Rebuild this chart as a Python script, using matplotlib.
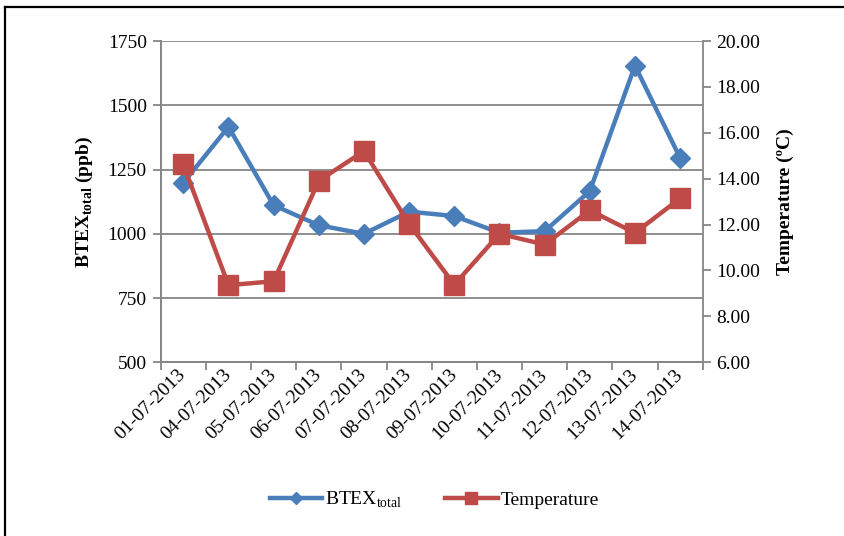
import matplotlib

matplotlib.use("Agg")
import matplotlib.pyplot as plt
from matplotlib.lines import Line2D
import numpy as np

# values
dates = [
    "01-07-2013", "04-07-2013", "05-07-2013", "06-07-2013",
    "07-07-2013", "08-07-2013", "09-07-2013", "10-07-2013",
    "11-07-2013", "12-07-2013", "13-07-2013", "14-07-2013",
]
btex_total = [1198, 1416, 1111, 1033, 1000, 1086, 1069, 1004, 1010, 1166, 1654, 1295]
temperature = [14.62, 9.36, 9.53, 13.91, 15.20, 12.03, 9.38, 11.60, 11.13, 12.62, 11.64, 13.14]

btex_ticks = [500, 750, 1000, 1250, 1500, 1750]
temp_ticks = [6, 8, 10, 12, 14, 16, 18, 20]

BLUE = "#4A7EBB"
RED = "#BE4B48"
GRAY = "#868686"

plt.rcParams["font.family"] = "Liberation Serif"
plt.rcParams["mathtext.fontset"] = "custom"
plt.rcParams["mathtext.rm"] = "Liberation Serif"
plt.rcParams["mathtext.bf"] = "Liberation Serif:bold"
plt.rcParams["font.size"] = 14


def main():
    fig = plt.figure(figsize=(8.45, 5.36), dpi=100)
    ax = fig.add_axes([0.1902, 0.3241, 0.6414, 0.5994])
    ax2 = ax.twinx()

    x = np.arange(len(dates))
    l1, = ax.plot(x, btex_total, color=BLUE, linewidth=3.2, marker="D",
                  markersize=10, label=r"BTEX$_{\mathrm{total}}$", zorder=3)
    l2, = ax2.plot(x, temperature, color=RED, linewidth=3.2, marker="s",
                   markersize=14, label="Temperature", zorder=3)

    ax.set_xlim(-0.5, len(dates) - 0.5)
    ax.set_ylim(500, 1750)
    ax2.set_ylim(6, 20)
    ax.set_yticks(btex_ticks)
    ax2.set_yticks(temp_ticks)
    ax2.set_yticklabels([f"{t:.2f}" for t in temp_ticks])

    # category boundaries get the tick marks, labels sit at centres
    ax.set_xticks(np.arange(-0.5, len(dates)), labels=[])
    ax.set_xticks(x, labels=dates, minor=True)
    ax.tick_params(axis="x", which="minor", length=0, pad=7)
    for lab in ax.get_xticklabels(minor=True):
        lab.set_rotation(45)
        lab.set_ha("right")
        lab.set_va("center")
        lab.set_rotation_mode("anchor")

    ax.tick_params(axis="both", which="major", direction="out", length=6,
                   width=1.3, color=GRAY, labelsize=14)
    ax.tick_params(axis="y", pad=4)
    ax2.tick_params(axis="y", direction="out", length=6, width=1.3,
                    color=GRAY, labelsize=14, pad=4)

    ax.grid(axis="y", color=GRAY, linewidth=1.3)
    ax.set_axisbelow(True)
    for a in (ax, ax2):
        a.spines["top"].set_visible(False)
        for side in ("left", "right", "bottom"):
            a.spines[side].set_color(GRAY)
            a.spines[side].set_linewidth(1.3)
    ax.spines["right"].set_visible(False)

    ax.set_ylabel(r"BTEX$_{\mathbf{total}}$ (ppb)", fontweight="bold",
                  fontsize=14, va="center")
    ax.yaxis.set_label_coords(-0.14, 0.5)
    ax2.set_ylabel("Temperature (ºC)", fontweight="bold", fontsize=14,
                   rotation=90, va="center")
    ax2.yaxis.set_label_coords(1.152, 0.5)

    fig.legend(handles=[l1, l2], loc="center", ncol=2,
               bbox_to_anchor=(0.514, 1 - 500 / 536), frameon=False,
               fontsize=14, handlelength=2.7, handletextpad=0.15,
               columnspacing=2.2, markerscale=0.6)

    # outer frame (only top and left edges visible in the original)
    fig.add_artist(Line2D([0.006, 1.0], [0.987, 0.987], color="black",
                          linewidth=1.6, transform=fig.transFigure))
    fig.add_artist(Line2D([0.006, 0.006], [0.0, 0.987], color="black",
                          linewidth=1.6, transform=fig.transFigure))

    fig.savefig("out.png", dpi=100)
    plt.close(fig)


if __name__ == "__main__":
    main()
